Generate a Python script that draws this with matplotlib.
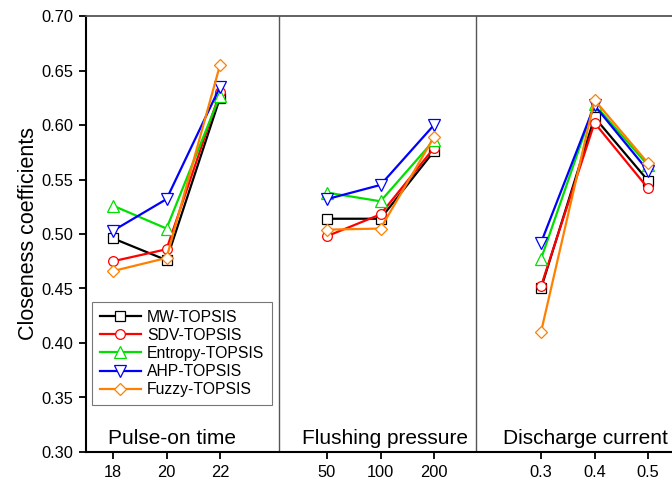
import matplotlib
matplotlib.use("Agg")
import matplotlib.pyplot as plt
import numpy as np

plt.rcParams['font.family'] = ['Liberation Sans', 'DejaVu Sans']

panel_names = ["Pulse-on time", "Flushing pressure", "Discharge current"]
tick_labels = [["18", "20", "22"], ["50", "100", "200"], ["0.3", "0.4", "0.5"]]

series_names = ["MW-TOPSIS", "SDV-TOPSIS", "Entropy-TOPSIS", "AHP-TOPSIS", "Fuzzy-TOPSIS"]
mw      = [[0.496, 0.476, 0.625], [0.514, 0.514, 0.576], [0.450, 0.607, 0.549]]
sdv     = [[0.475, 0.486, 0.630], [0.498, 0.518, 0.579], [0.452, 0.602, 0.542]]
entropy = [[0.526, 0.505, 0.627], [0.538, 0.530, 0.586], [0.477, 0.619, 0.563]]
ahp     = [[0.503, 0.532, 0.635], [0.532, 0.545, 0.600], [0.492, 0.618, 0.558]]
fuzzy   = [[0.466, 0.478, 0.655], [0.504, 0.505, 0.589], [0.410, 0.623, 0.565]]
series = [mw, sdv, entropy, ahp, fuzzy]

colors = ["#000000", "#ff0000", "#00e000", "#0000ff", "#ff8000"]
markers = ["s", "o", "^", "v", "D"]
msizes = [6.5, 7, 8, 8, 6.5]

fig = plt.figure(figsize=(6.72, 4.86), dpi=100)
W, H = 672, 486
x_left_px, x_right_px = 86, 680
y_top_px, y_bot_px = 16, 452
ax = fig.add_axes([x_left_px / W, 1 - y_bot_px / H,
                   (x_right_px - x_left_px) / W, (y_bot_px - y_top_px) / H])

px_per_unit = 53.5
xmin = 1 + (x_left_px - 113) / px_per_unit
xmax = 1 + (x_right_px - 113) / px_per_unit
ax.set_xlim(xmin, xmax)
ax.set_ylim(0.30, 0.70)

panel_offsets = [0, 4, 8]
positions = []
for off in panel_offsets:
    positions.append([off + 1, off + 2, off + 3])

for name, data, c, m, ms in zip(series_names, series, colors, markers, msizes):
    for i, (pos, vals) in enumerate(zip(positions, data)):
        ax.plot(pos, vals, color=c, lw=1.6, marker=m, markersize=ms,
                markerfacecolor="white", markeredgecolor=c, markeredgewidth=0.9,
                label=name if i == 0 else None, zorder=3)

# dividers
for px in [279, 476]:
    xv = 1 + (px - 113) / px_per_unit
    ax.axvline(xv, color="#555555", lw=1.0, zorder=1)

# panel labels
label_px = [108, 302, 503]
for px, name in zip(label_px, panel_names):
    xv = 1 + (px - 113) / px_per_unit
    ax.text(xv, 0.30 + (452 - 444) / 1090, name, fontsize=15, ha="left", va="baseline")

flat_pos = [p for pos in positions for p in pos]
flat_lab = [l for labs in tick_labels for l in labs]
ax.set_xticks(flat_pos)
ax.set_xticklabels(flat_lab, fontsize=11.8)
ax.set_yticks(np.arange(0.30, 0.701, 0.05))
ax.set_yticklabels([f"{v:.2f}" for v in np.arange(0.30, 0.701, 0.05)], fontsize=11.8)
ax.tick_params(direction="out", length=5, width=1.3, pad=4)
ax.set_ylabel("Closeness coefficients", fontsize=15.5, labelpad=2)

for s in ["left", "bottom"]:
    ax.spines[s].set_linewidth(1.5)
ax.spines["top"].set_color("#555555")
ax.spines["top"].set_linewidth(1.3)
ax.spines["right"].set_visible(False)

leg = ax.legend(loc="lower left", bbox_to_anchor=((92 - x_left_px) / (x_right_px - x_left_px),
                                                  (y_bot_px - 405) / (y_bot_px - y_top_px)),
                fontsize=11.3, frameon=True, fancybox=False, edgecolor="#555555",
                labelspacing=0.2, handlelength=2.6, handletextpad=0.4,
                borderpad=0.5, borderaxespad=0)
leg.get_frame().set_linewidth(0.8)

fig.savefig("out.png", dpi=100)
